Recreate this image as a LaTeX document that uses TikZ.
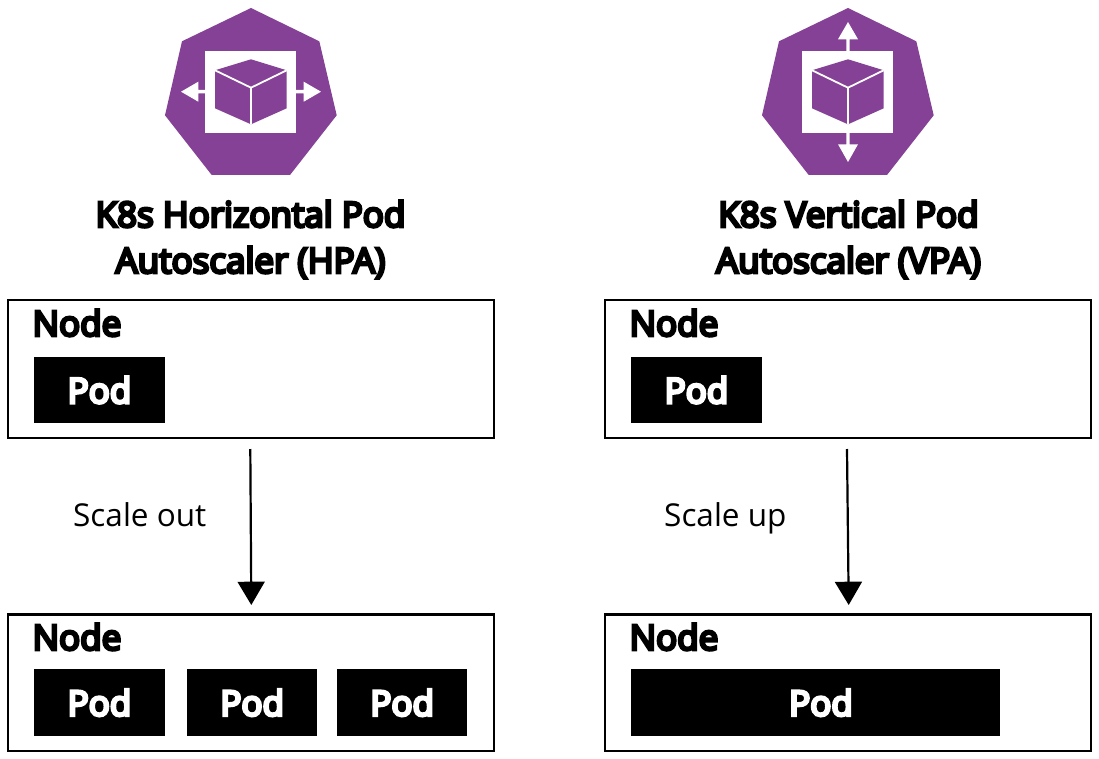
\documentclass[tikz,border=0pt]{standalone}
\usepackage{fontspec}
\setmainfont{Open Sans}
\newfontfamily\semibfont[FakeBold=8]{Open Sans}
\usetikzlibrary{arrows.meta}
\definecolor{hexpurple}{HTML}{854195}
\tikzset{
  x=1pt,y=-1pt,
  nodebox/.style={draw=black,line width=2.3pt,fill=white,minimum height=#1,anchor=north west,inner sep=0pt},
  podbox/.style={fill=black,text=white,font=\fontsize{35}{35}\selectfont\semibfont,anchor=north west,inner sep=0pt,outer sep=0pt,minimum height=66.7pt},
  nodelabel/.style={font=\fontsize{35}{35}\selectfont\semibfont,inner sep=0pt},
  titlelabel/.style={font=\fontsize{35}{46}\selectfont\semibfont,align=center,inner sep=0pt},
  scalelabel/.style={font=\fontsize{31.5}{31.5}\selectfont,inner sep=0pt},
  flow/.style={line width=2.2pt,-{Triangle[length=23.3pt,width=27pt]}},
}
\newcommand{\autoscalericon}[1]{%
  \begin{scope}[xshift=#1pt]
    \fill[hexpurple] (251,8)--(319.3,41.3)--(336.7,115.3)--(290,175)--(211.7,175)--(165,115.3)--(182,41.3)--cycle;
  \end{scope}}
\newcommand{\cubeglyph}[1]{%
  \begin{scope}[xshift=#1pt]
    \fill[white] (205.3,50.7) rectangle (296,132.7);
    \fill[hexpurple] (251,59.3)--(286.7,70.3)--(286.7,108.3)--(251,124.3)--(215,108.3)--(215,70.3)--cycle;
    \draw[white,line width=1.8pt] (215,70.3)--(251,87.7)--(286.7,70.3) (251,87.7)--(251,124.3);
  \end{scope}}
\begin{document}
\begin{tikzpicture}
\useasboundingbox (0,0) rectangle (1099,759);
\fill[white] (0,0) rectangle (1099,759);
% left icon
\autoscalericon{0}
\fill[white] (181,91.7)--(198.3,81.7)--(198.3,90)--(206,90)--(206,93.4)--(198.3,93.4)--(198.3,101.7)--cycle;
\fill[white] (321,91.7)--(303.7,81.7)--(303.7,90)--(296,90)--(296,93.4)--(303.7,93.4)--(303.7,101.7)--cycle;
\cubeglyph{0}
% right icon
\autoscalericon{597}
\fill[white] (848,22)--(858,39.3)--(849.7,39.3)--(849.7,51)--(846.3,51)--(846.3,39.3)--(838,39.3)--cycle;
\fill[white] (848,162)--(858,144.3)--(849.7,144.3)--(849.7,132)--(846.3,132)--(846.3,144.3)--(838,144.3)--cycle;
\cubeglyph{597}
% titles
\node[titlelabel] (hpatitle) at (250.5,239.5) {K8s Horizontal Pod\\Autoscaler (HPA)};
\node[titlelabel] (vpatitle) at (848.5,239.5) {K8s Vertical Pod\\Autoscaler (VPA)};
% left column
\node[nodebox=138pt,minimum width=486.3pt] (n1) at (6.7,298.7) {};
\node[nodelabel,anchor=base west] (n1l) at (32.5,336) {Node};
\node[podbox,minimum width=130.4pt] (p1) at (34.3,356.7) {Pod};
\node[nodebox=136.4pt,minimum width=486.3pt] (n2) at (6.7,613.3) {};
\node[nodelabel,anchor=base west] (n2l) at (32.5,650) {Node};
\node[podbox,minimum width=130.4pt] (p2) at (34.3,669.3) {Pod};
\node[podbox,minimum width=130.4pt] (p3) at (187,669.3) {Pod};
\node[podbox,minimum width=130.4pt] (p4) at (337,669.3) {Pod};
% right column
\node[nodebox=138pt,minimum width=486.3pt] (n3) at (603.7,298.7) {};
\node[nodelabel,anchor=base west] (n3l) at (629.5,336) {Node};
\node[podbox,minimum width=130.4pt] (p5) at (631.3,356.7) {Pod};
\node[nodebox=136.4pt,minimum width=486.3pt] (n4) at (603.7,613.3) {};
\node[nodelabel,anchor=base west] (n4l) at (629.5,650) {Node};
\node[podbox,minimum width=368.4pt] (p6) at (631.3,669.3) {\hspace*{11pt}Pod};
% connectors
\coordinate (a1) at (250.3,449);
\coordinate (a2) at (251.3,605);
\coordinate (b1) at (847,449);
\coordinate (b2) at (848.7,605);
\draw[flow] (a1)--(a2);
\draw[flow] (b1)--(b2);
\node[scalelabel,anchor=base west] (s1) at (73,526) {Scale out};
\node[scalelabel,anchor=base west] (s2) at (664,526) {Scale up};
\end{tikzpicture}
\end{document}
